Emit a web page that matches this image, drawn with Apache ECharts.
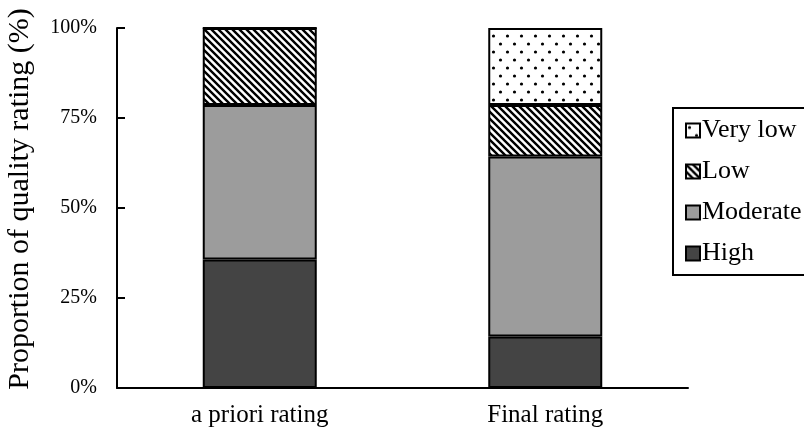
<!DOCTYPE html>
<html>
<head>
<meta charset="utf-8">
<script src="https://cdn.jsdelivr.net/npm/echarts@6/dist/echarts.min.js"></script>
<style>html,body{margin:0;padding:0;background:#fff;}#c{width:804px;height:431px;}</style>
</head>
<body>
<div id="c"></div>
<script>
const categories = ['a priori rating', 'Final rating'];
const seriesNames = ['High', 'Moderate', 'Low', 'Very low'];
const highVals = [35.7, 14.3];
const moderateVals = [42.9, 50.0];
const lowVals = [21.4, 14.3];
const veryLowVals = [0, 21.4];
const yTicks = [0, 25, 50, 75, 100];

function stripes() {
  const s = 7;
  const c = document.createElement('canvas');
  c.width = s; c.height = s;
  const g = c.getContext('2d');
  g.fillStyle = '#fff'; g.fillRect(0, 0, s, s);
  g.strokeStyle = '#000'; g.lineWidth = 2.4;
  g.beginPath();
  for (let k = -1; k <= 1; k++) { g.moveTo(k * s - 1, -1); g.lineTo(k * s + s + 1, s + 1); }
  g.stroke();
  return c;
}
function dots() {
  const c = document.createElement('canvas');
  c.width = 14; c.height = 16;
  const g = c.getContext('2d');
  g.fillStyle = '#fff'; g.fillRect(0, 0, 14, 16);
  g.fillStyle = '#000';
  g.beginPath(); g.arc(3.5, 4, 1.6, 0, Math.PI * 2); g.fill();
  g.beginPath(); g.arc(10.5, 12, 1.6, 0, Math.PI * 2); g.fill();
  return c;
}

const fills = {
  'High': '#444444',
  'Moderate': '#9c9c9c',
  'Low': { image: stripes(), repeat: 'repeat' },
  'Very low': { image: dots(), repeat: 'repeat' }
};
const valuesByName = { 'High': highVals, 'Moderate': moderateVals, 'Low': lowVals, 'Very low': veryLowVals };

const font = 'Liberation Serif, Times New Roman, serif';
const chart = echarts.init(document.getElementById('c'), null, { renderer: 'canvas' });
chart.setOption({
  animation: false,
  backgroundColor: '#fff',
  textStyle: { fontFamily: font, color: '#000' },
  grid: { left: 117, right: 116, top: 28, bottom: 43, containLabel: false, outerBoundsMode: 'none' },
  legend: {
    data: ['Very low', 'Low', 'Moderate', 'High'],
    orient: 'vertical',
    left: 673, top: 108,
    padding: [9, 60, 8, 12],
    itemWidth: 14, itemHeight: 14, itemGap: 14,
    icon: 'rect',
    borderColor: '#000', borderWidth: 2, borderRadius: 0,
    textStyle: { fontFamily: font, fontSize: 26, color: '#000', padding: [0, 0, 0, -3], lineHeight: 27 }
  },
  xAxis: {
    type: 'category',
    data: categories,
    axisLine: { lineStyle: { color: '#000', width: 2 } },
    axisTick: { show: false },
    axisLabel: { fontFamily: font, fontSize: 25, color: '#000', margin: 15 }
  },
  yAxis: {
    type: 'value',
    min: 0, max: 100, interval: 25,
    name: 'Proportion of quality rating (%)',
    nameLocation: 'middle',
    nameGap: 82,
    nameTextStyle: { fontFamily: font, fontSize: 30, color: '#000', padding: [0, 0, 0, 18] },
    axisLine: { show: true, lineStyle: { color: '#000', width: 2 } },
    axisTick: { show: true, inside: true, length: 8, lineStyle: { color: '#000', width: 2 } },
    splitLine: { show: false },
    axisLabel: {
      fontFamily: font, fontSize: 20, color: '#000', margin: 20,
      customValues: yTicks,
      formatter: v => v + '%'
    }
  },
  series: seriesNames.map(n => ({
    name: n,
    type: 'bar',
    stack: 'total',
    barWidth: 114,
    data: valuesByName[n],
    itemStyle: { color: fills[n], borderColor: '#000', borderWidth: 2 }
  }))
});
</script>
</body>
</html>
